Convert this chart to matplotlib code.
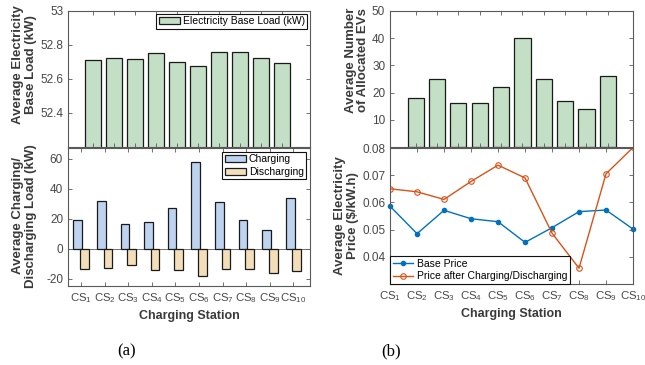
import numpy as np
import matplotlib
matplotlib.use('Agg')
import matplotlib.pyplot as plt

plt.rcParams['font.family'] = ['Liberation Sans', 'DejaVu Sans']
plt.rcParams['mathtext.fontset'] = 'custom'
plt.rcParams['mathtext.rm'] = 'Liberation Sans'
plt.rcParams['mathtext.it'] = 'Liberation Sans'

# data
stations = [1, 2, 3, 4, 5, 6, 7, 8, 9, 10]
tick_labels = [rf'CS$_{{{i}}}$' for i in stations]
base_load = [52.709, 52.726, 52.717, 52.750, 52.700, 52.676, 52.757, 52.759, 52.726, 52.693]
charging = [19.0, 31.8, 16.3, 17.4, 26.9, 57.8, 31.3, 19.2, 12.4, 34.0]
discharging = [-13.5, -12.8, -10.8, -14.6, -14.6, -18.1, -13.5, -13.5, -16.6, -15.2]
num_evs = [18, 25, 16, 16, 22, 40, 25, 17, 14, 26]
base_price = [0.0586, 0.0485, 0.0571, 0.0540, 0.0529, 0.0453, 0.0507, 0.0566, 0.0572, 0.0502]
price_after = [0.0650, 0.0639, 0.0611, 0.0677, 0.0737, 0.0690, 0.0487, 0.0358, 0.0705, 0.0802]

GREEN = '#c3dfc5'
BLUE_BAR = '#bdd3ef'
TAN_BAR = '#f3deb9'
EDGE = '#1a1a1a'
FRAME = '#5a5a5a'
TXT = '#474747'
LBL = '#3a3a3a'


def style(ax):
    for s in ax.spines.values():
        s.set_color(FRAME)
        s.set_linewidth(0.8)
    ax.tick_params(direction='in', length=3, width=0.6, colors=FRAME,
                   labelcolor=TXT, labelsize=8.5, top=True, right=True)
    ax.tick_params(axis='x', labelsize=8.2)


def yticks(ax, ticks):
    ax.set_yticks(ticks, labels=[f'{t:g}' for t in ticks])


def ylabel(ax, text, x, y, ls=1.15):
    ax.set_ylabel(text, fontsize=9.5, fontweight='bold', color=LBL,
                  va='center', linespacing=ls)
    ax.yaxis.set_label_coords(x, y)


def leg(ax, **kw):
    lg = ax.legend(fontsize=7.5, fancybox=False, framealpha=1, edgecolor='#111111',
                   handlelength=2.0, handletextpad=0.3, borderpad=0.25,
                   labelspacing=0.25, **kw)
    lg.get_frame().set_linewidth(0.8)
    return lg


fig = plt.figure(figsize=(6.45, 3.65), dpi=100)
ax_tl = fig.add_axes([0.1054, 0.5973, 0.3752, 0.3726])
ax_bl = fig.add_axes([0.1054, 0.2164, 0.3752, 0.3781])
ax_tr = fig.add_axes([0.6047, 0.5973, 0.3767, 0.3726])
ax_br = fig.add_axes([0.6047, 0.2219, 0.3767, 0.3726])

# (a) top: base load
ax_tl.bar(stations, base_load, width=0.75, color=GREEN, edgecolor=EDGE,
          linewidth=0.9, label='Electricity Base Load (kW)')
ax_tl.set_xlim(-0.18, 11.32)
ax_tl.set_ylim(52.2, 53)
yticks(ax_tl, [52.4, 52.6, 52.8, 53])
ax_tl.set_xticks(stations, labels=[])
style(ax_tl)
ylabel(ax_tl, 'Average Electricity\nBase Load (kW)', -0.18, 0.607)
leg(ax_tl, loc='upper right', borderaxespad=0.25)

# (a) bottom: charging / discharging
x = np.array(stations)
ax_bl.bar(x - 0.14, charging, width=0.37, color=BLUE_BAR, edgecolor=EDGE,
          linewidth=0.9, label='Charging')
ax_bl.bar(x + 0.14, discharging, width=0.37, color=TAN_BAR, edgecolor=EDGE,
          linewidth=0.9, label='Discharging')
ax_bl.axhline(0, color=FRAME, lw=0.6, zorder=0.5)
ax_bl.set_xlim(0.45, 10.7)
ax_bl.set_ylim(-25, 67)
yticks(ax_bl, [-20, 0, 20, 40, 60])
ax_bl.set_xticks(stations, labels=tick_labels)
style(ax_bl)
ax_bl.set_xlabel('Charging Station', fontsize=9, fontweight='bold', color=LBL, labelpad=4)
ylabel(ax_bl, 'Average Charging/\nDischarging Load (kW)', -0.18, 0.51)
leg(ax_bl, loc='upper right', borderaxespad=0.35)

# (b) top: number of EVs
ax_tr.bar(stations, num_evs, width=0.76, color=GREEN, edgecolor=EDGE, linewidth=0.9)
ax_tr.set_xlim(-0.2, 11.18)
ax_tr.set_ylim(0, 50)
yticks(ax_tr, [10, 20, 30, 40, 50])
ax_tr.set_xticks(stations, labels=[])
style(ax_tr)
ylabel(ax_tr, 'Average Number\nof Allocated EVs', -0.138, 0.64, ls=1.0)

# (b) bottom: prices
ax_br.plot(stations, base_price, color='#0072BD', lw=1, marker='.', ms=6,
           label='Base Price', clip_on=False)
ax_br.plot(stations, price_after, color='#D95319', lw=1, marker='o', ms=4,
           mfc='none', mew=0.8, label='Price after Charging/Discharging')
ax_br.set_xlim(1, 10)
ax_br.set_ylim(0.03, 0.08)
yticks(ax_br, [0.04, 0.05, 0.06, 0.07, 0.08])
ax_br.set_xticks(stations, labels=tick_labels)
style(ax_br)
ax_br.set_xlabel('Charging Station', fontsize=9, fontweight='bold', color=LBL, labelpad=4)
ylabel(ax_br, 'Average Electricity\nPrice ($/kW.h)', -0.18, 0.505)
lg = leg(ax_br, loc='lower left', borderaxespad=0)
lg.set_zorder(5)

fig.text(0.196, 0.038, '(a)', family='Liberation Serif', fontsize=12, ha='center', va='center')
fig.text(0.607, 0.038, '(b)', family='Liberation Serif', fontsize=12, ha='center', va='center')

fig.savefig('out.png', dpi=100)
